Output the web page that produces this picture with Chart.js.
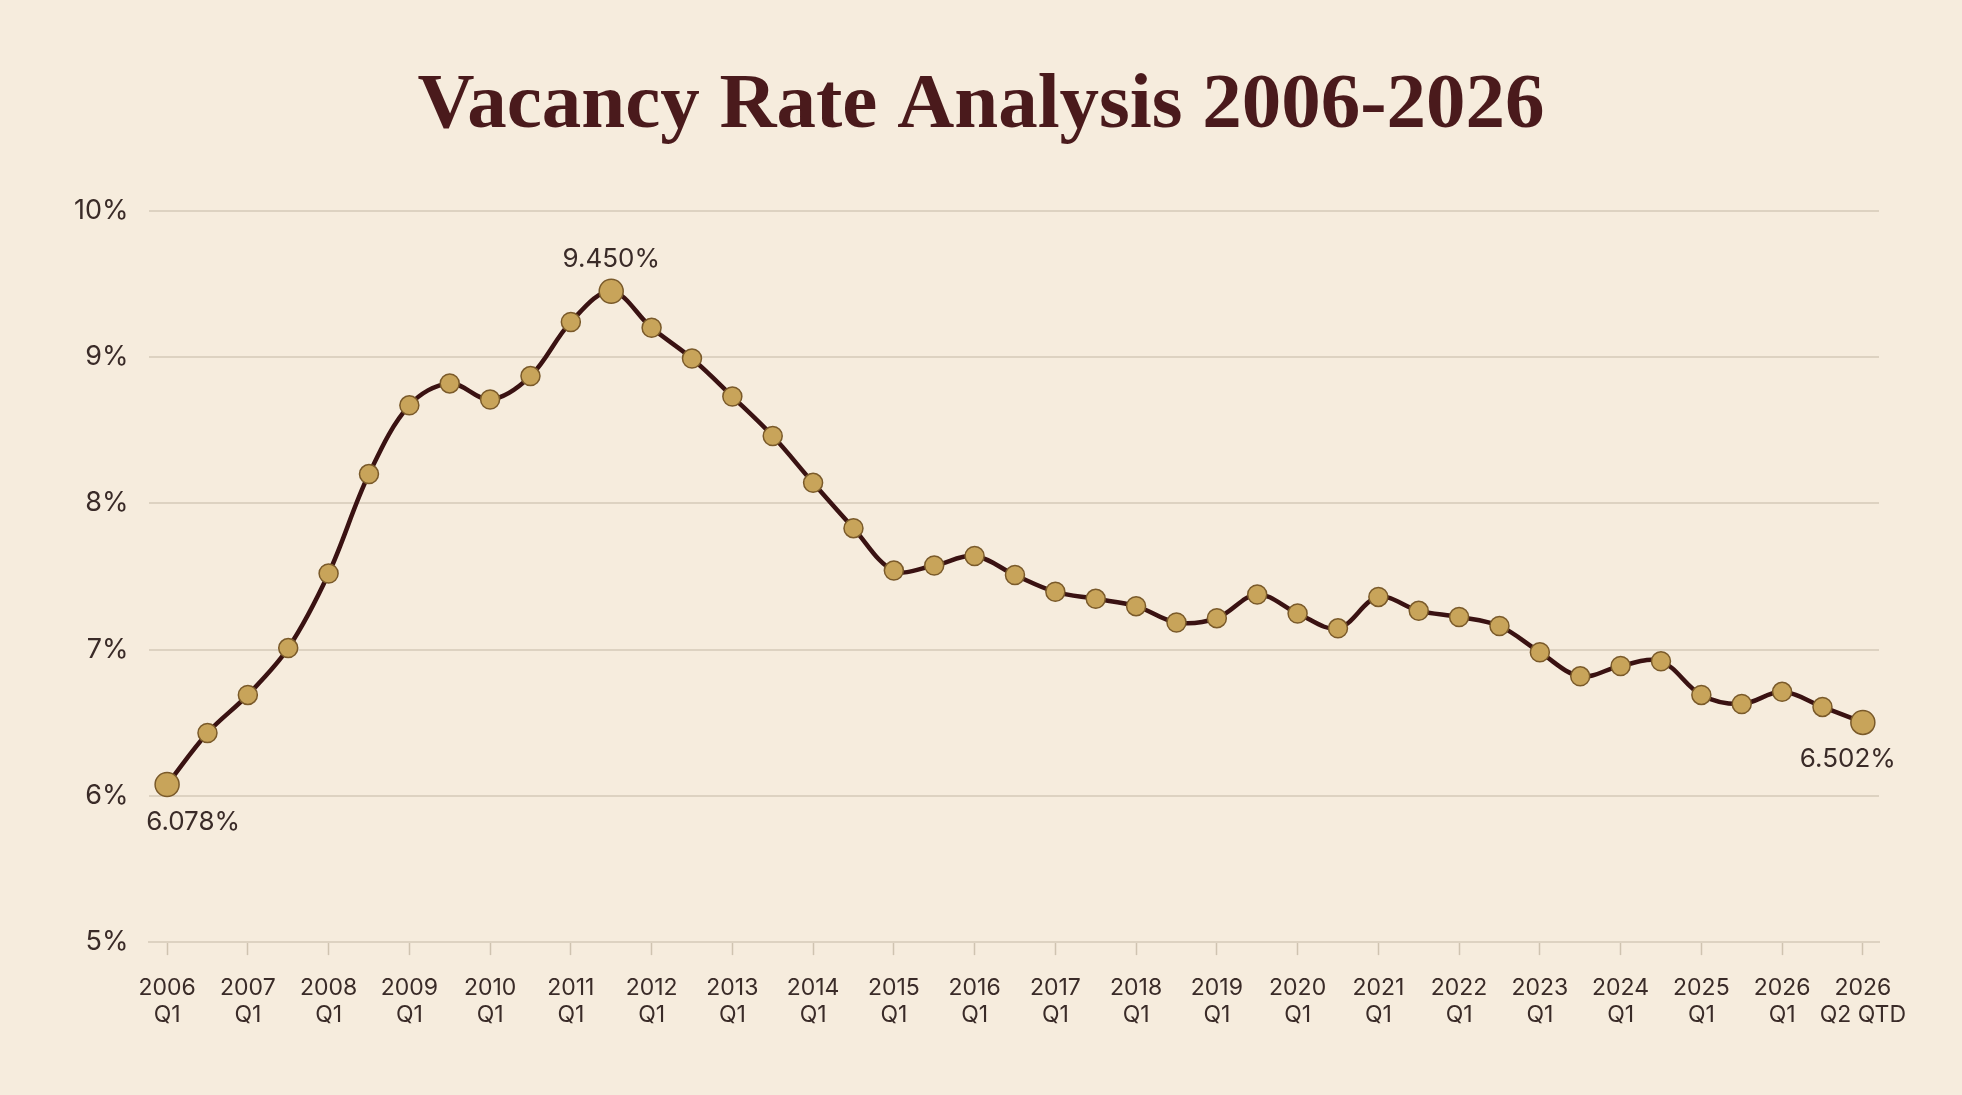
<!DOCTYPE html>
<html>
<head>
<meta charset="utf-8">
<title>Vacancy Rate Analysis 2006-2026</title>
<script src="https://cdn.jsdelivr.net/npm/chart.js@4.4.1/dist/chart.umd.min.js"></script>
<style>
    html, body { margin: 0; padding: 0; background: #f6ecdd; }
    canvas { display: block; }
</style>
</head>
<body>
<canvas id="vacancyChart" width="1962" height="1095"></canvas>
<script>
// Half-year steps; only every other one gets a label on the axis
const periods = [
    '2006 Q1', '', '2007 Q1', '', '2008 Q1', '', '2009 Q1', '', '2010 Q1', '',
    '2011 Q1', '', '2012 Q1', '', '2013 Q1', '', '2014 Q1', '', '2015 Q1', '',
    '2016 Q1', '', '2017 Q1', '', '2018 Q1', '', '2019 Q1', '', '2020 Q1', '',
    '2021 Q1', '', '2022 Q1', '', '2023 Q1', '', '2024 Q1', '', '2025 Q1', '',
    '2026 Q1', '', '2026 Q2 QTD'
];

const vacancyRate = [
    6.078, 6.43, 6.69, 7.01, 7.52, 8.20, 8.67, 8.82, 8.71, 8.87,
    9.24, 9.450, 9.20, 8.99, 8.73, 8.46, 8.14, 7.83, 7.54, 7.575,
    7.64, 7.51, 7.395, 7.347, 7.297, 7.185, 7.215, 7.377, 7.247, 7.145,
    7.36, 7.265, 7.223, 7.161, 6.982, 6.817, 6.888, 6.92, 6.69, 6.628,
    6.711, 6.608, 6.502
];

const yTicks = [5, 6, 7, 8, 9, 10];

const TEXT = '#3a2b28';
const GRID = '#ddd2c1';

const peakIndex = vacancyRate.indexOf(Math.max(...vacancyRate));
const lastIndex = vacancyRate.length - 1;
const bigPoint = i => i === 0 || i === peakIndex || i === lastIndex;

// value text next to the first, highest and latest points
const valueLabels = {
    id: 'valueLabels',
    afterLayout(chart) {
        // keep the title centred on the whole canvas, not on the padded box
        const tb = chart.titleBlock;
        if (tb) {
            const shift = chart.width / 2 - (tb.left + tb.right) / 2;
            tb.left += shift;
            tb.right += shift;
        }
    },
    afterDatasetsDraw(chart) {
        const ctx = chart.ctx;
        const x = chart.scales.x;
        const y = chart.scales.y;
        const spots = [
            { i: 0, dx: 26, dy: 38 },
            { i: peakIndex, dx: 0, dy: -32 },
            { i: lastIndex, dx: -15, dy: 37 }
        ];
        ctx.save();
        ctx.font = '400 26px Inter, "Noto Sans", sans-serif';
        ctx.fillStyle = TEXT;
        ctx.textAlign = 'center';
        ctx.textBaseline = 'middle';
        spots.forEach(s => {
            const px = x.getPixelForValue(s.i);
            const py = y.getPixelForValue(vacancyRate[s.i]);
            ctx.fillText(vacancyRate[s.i].toFixed(3) + '%', px + s.dx, py + s.dy);
        });
        ctx.restore();
    }
};

const ctx = document.getElementById('vacancyChart').getContext('2d');
const chart = new Chart(ctx, {
    type: 'line',
    data: {
        datasets: [{
            label: 'Vacancy rate',
            data: vacancyRate.map((v, i) => ({ x: i, y: v })),
            borderColor: '#3a1212',
            borderWidth: 4.5,
            tension: 0.35,
            pointBackgroundColor: '#c8a45a',
            pointBorderColor: '#7a5a2a',
            pointBorderWidth: 1.5,
            pointRadius: c => bigPoint(c.dataIndex) ? 12 : 9.5
        }]
    },
    options: {
        responsive: false,
        animation: false,
        layout: {
            padding: { left: 54, right: 83, top: 0, bottom: 47 }
        },
        scales: {
            x: {
                type: 'linear',
                min: -0.46,
                max: lastIndex + 0.4,
                afterBuildTicks: axis => {
                    axis.ticks = periods
                        .map((p, i) => p ? { value: i } : null)
                        .filter(Boolean);
                },
                border: { color: GRID, width: 2 },
                grid: {
                    drawOnChartArea: false,
                    tickLength: 13,
                    tickWidth: 1.5,
                    tickColor: '#cfc3b0'
                },
                ticks: {
                    autoSkip: false,
                    maxRotation: 0,
                    padding: 20,
                    color: TEXT,
                    font: { family: 'Inter, "Noto Sans", sans-serif', size: 23, lineHeight: 1.15 },
                    callback: function(value) {
                        const label = periods[value];
                        if (!label) return '';
                        const cut = label.indexOf(' ');
                        return [label.slice(0, cut), label.slice(cut + 1)];
                    }
                }
            },
            y: {
                min: yTicks[0],
                max: yTicks[yTicks.length - 1],
                afterBuildTicks: axis => {
                    axis.ticks = yTicks.map(v => ({ value: v }));
                },
                border: { display: false },
                grid: {
                    color: GRID,
                    lineWidth: 2,
                    drawTicks: false
                },
                ticks: {
                    padding: 20,
                    color: TEXT,
                    font: { family: 'Inter, "Noto Sans", sans-serif', size: 27 },
                    callback: value => value + '%'
                }
            }
        },
        plugins: {
            legend: { display: false },
            tooltip: { enabled: false },
            title: {
                display: true,
                text: 'Vacancy Rate Analysis 2006-2026',
                color: '#4a1a1c',
                font: { family: '"Liberation Serif", "DejaVu Serif", serif', size: 79, weight: 'bold', lineHeight: 1.2 },
                padding: { top: 59, bottom: 57 }
            }
        }
    },
    plugins: [valueLabels]
});
</script>
</body>
</html>
